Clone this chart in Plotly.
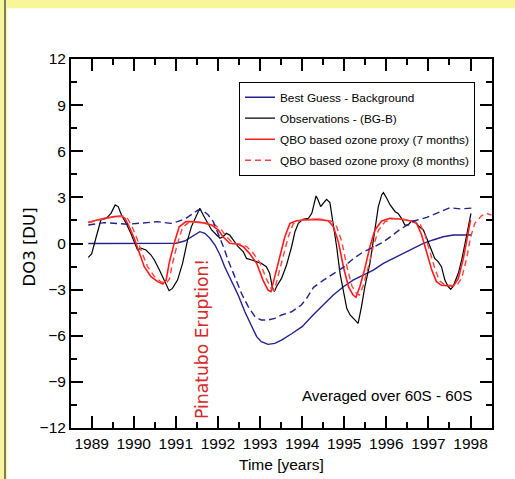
import plotly.graph_objects as go

# ---------------- data ----------------
obs_t = [1988.92, 1989.00, 1989.10, 1989.22, 1989.34, 1989.46, 1989.56, 1989.63, 1989.71, 1989.82,
         1989.93, 1990.05, 1990.09, 1990.17, 1990.29, 1990.41, 1990.49, 1990.61, 1990.73, 1990.84,
         1990.92, 1991.04, 1991.16, 1991.28, 1991.37, 1991.49, 1991.57, 1991.65, 1991.73, 1991.85,
         1991.97, 1992.05, 1992.12, 1992.20, 1992.28, 1992.36, 1992.48, 1992.60, 1992.68, 1992.80,
         1992.92, 1993.03, 1993.15, 1993.23, 1993.29, 1993.34, 1993.39, 1993.51, 1993.63, 1993.75,
         1993.83, 1993.91, 1994.02, 1994.15, 1994.23, 1994.33, 1994.38, 1994.44, 1994.50, 1994.58,
         1994.66, 1994.74, 1994.82, 1994.90, 1994.98, 1995.06, 1995.14, 1995.25, 1995.33, 1995.41,
         1995.49, 1995.61, 1995.73, 1995.81, 1995.89, 1995.93, 1996.01, 1996.09, 1996.21, 1996.28,
         1996.36, 1996.44, 1996.52, 1996.60, 1996.68, 1996.78, 1996.88, 1996.96, 1997.04, 1997.15,
         1997.23, 1997.31, 1997.39, 1997.47, 1997.53, 1997.59, 1997.71, 1997.79, 1997.87, 1997.95,
         1998.01]
obs_v = [-0.90, -0.68, 0.34, 1.53, 1.62, 1.96, 2.51, 2.40, 1.85, 1.31,
         0.66, -0.21, -0.42, -0.31, -0.42, -0.75, -1.07, -1.72, -2.38, -3.07,
         -2.92, -2.38, -1.29, 0.23, 1.10, 1.85, 2.29, 1.85, 1.42, 0.88,
         0.55, 0.34, 0.44, 0.66, 0.55, 0.23, -0.21, -0.53, -0.97, -1.07,
         -1.18, -1.29, -1.51, -1.94, -2.81, -3.13, -2.81, -2.27, -1.40, -0.21,
         0.77, 1.31, 1.57, 1.64, 1.96, 3.09, 2.83, 2.40, 2.61, 2.87,
         2.66, 1.31, -0.21, -1.94, -3.03, -4.22, -4.65, -4.98, -5.19, -4.11,
         -2.81, -1.29, 0.88, 2.40, 3.16, 3.31, 2.94, 2.51, 2.07, 1.96,
         1.64, 1.20, 1.20, 1.48, 1.42, 1.10, 0.88, 0.34, -0.21, -0.97,
         -1.18, -1.51, -2.38, -2.81, -2.98, -2.77, -1.94, -1.07, 0.01, 1.10,
         1.96]

bg_t = [1988.92, 1989.5, 1990.0, 1990.5, 1991.0, 1991.21, 1991.37, 1991.49, 1991.57, 1991.69,
        1991.81, 1991.93, 1992.05, 1992.16, 1992.32, 1992.48, 1992.64, 1992.80, 1992.92, 1993.03,
        1993.19, 1993.35, 1993.51, 1993.75, 1994.00, 1994.26, 1994.50, 1994.74, 1994.98, 1995.21,
        1995.45, 1995.69, 1995.93, 1996.16, 1996.40, 1996.64, 1996.88, 1997.11, 1997.35, 1997.59,
        1997.83, 1998.03]
bg_v = [0.0, 0.0, 0.0, 0.0, 0.02, 0.16, 0.44, 0.66, 0.77, 0.66,
        0.34, -0.10, -0.75, -1.51, -2.38, -3.35, -4.44, -5.41, -6.06, -6.39,
        -6.56, -6.50, -6.28, -5.87, -5.41, -4.65, -4.00, -3.35, -2.81, -2.38,
        -2.05, -1.73, -1.29, -0.97, -0.64, -0.31, 0.01, 0.23, 0.44, 0.55,
        0.55, 0.55]

bgd_t = [1988.92, 1989.30, 1989.86, 1990.09, 1990.33, 1990.57, 1990.88, 1991.04, 1991.24, 1991.37,
         1991.53, 1991.65, 1991.77, 1991.89, 1992.01, 1992.13, 1992.24, 1992.40, 1992.56, 1992.72,
         1992.88, 1993.03, 1993.19, 1993.35, 1993.51, 1993.75, 1993.98, 1994.10, 1994.27, 1994.50,
         1994.74, 1994.98, 1995.21, 1995.45, 1995.69, 1995.90, 1996.08, 1996.32, 1996.64, 1996.96,
         1997.27, 1997.51, 1997.75, 1998.03]
bgd_v = [1.20, 1.36, 1.25, 1.31, 1.38, 1.42, 1.31, 1.42, 1.64, 1.90,
         2.18, 2.14, 1.85, 1.42, 0.66, -0.21, -1.07, -2.16, -3.25, -4.11,
         -4.76, -4.98, -4.98, -4.87, -4.65, -4.44, -4.00, -3.60, -2.85, -2.40,
         -1.95, -1.55, -1.00, -0.55, -0.25, 0.05, 0.40, 0.90, 1.45, 1.70,
         2.05, 2.33, 2.25, 2.30]

q7_t = [1988.92, 1989.14, 1989.30, 1989.54, 1989.70, 1989.79, 1989.89, 1990.01, 1990.13, 1990.25,
        1990.41, 1990.57, 1990.69, 1990.77, 1990.84, 1990.96, 1991.08, 1991.24, 1991.37, 1991.61,
        1991.85, 1992.01, 1992.12, 1992.28, 1992.48, 1992.60, 1992.75, 1992.92, 1993.07, 1993.19,
        1993.26, 1993.35, 1993.47, 1993.59, 1993.71, 1993.87, 1994.02, 1994.34, 1994.62, 1994.74,
        1994.86, 1994.98, 1995.10, 1995.21, 1995.28, 1995.37, 1995.49, 1995.61, 1995.73, 1995.89,
        1996.09, 1996.32, 1996.56, 1996.72, 1996.84, 1996.96, 1997.08, 1997.19, 1997.31, 1997.59,
        1997.71, 1997.83, 1997.92, 1998.00]
q7_v = [1.38, 1.53, 1.64, 1.75, 1.79, 1.64, 1.10, 0.34, -0.64, -1.51,
        -2.16, -2.48, -2.64, -2.38, -1.29, 0.01, 1.09, 1.42, 1.42, 1.36,
        1.20, 0.88, 0.44, 0.01, -0.05, -0.21, -0.64, -1.29, -2.38, -3.03,
        -3.13, -2.16, -0.86, 0.44, 1.31, 1.48, 1.53, 1.57, 1.48, 1.10,
        0.12, -1.51, -2.81, -3.35, -3.50, -2.81, -1.62, -0.21, 0.88, 1.46,
        1.64, 1.59, 1.48, 1.31, 0.55, -0.53, -1.73, -2.48, -2.72, -2.77,
        -2.27, -0.97, 0.44, 1.53]

q8_t = [1988.92, 1989.14, 1989.30, 1989.54, 1989.75, 1989.86, 1989.96, 1990.08, 1990.20, 1990.33,
        1990.49, 1990.65, 1990.77, 1990.85, 1990.92, 1991.04, 1991.16, 1991.32, 1991.60, 1991.90,
        1992.08, 1992.20, 1992.36, 1992.56, 1992.68, 1992.83, 1993.00, 1993.15, 1993.27, 1993.34,
        1993.43, 1993.55, 1993.67, 1993.79, 1993.95, 1994.10, 1994.40, 1994.70, 1994.82, 1994.94,
        1995.06, 1995.18, 1995.29, 1995.36, 1995.45, 1995.57, 1995.69, 1995.81, 1995.97, 1996.17,
        1996.40, 1996.64, 1996.80, 1996.92, 1997.04, 1997.16, 1997.27, 1997.39, 1997.67, 1997.79,
        1997.91, 1998.00, 1998.10, 1998.26, 1998.38, 1998.50]
q8_v = [1.35, 1.50, 1.62, 1.72, 1.78, 1.60, 1.10, 0.30, -0.65, -1.50,
        -2.15, -2.50, -2.60, -2.30, -1.30, 0.00, 1.05, 1.40, 1.40, 1.25,
        0.90, 0.45, 0.02, -0.05, -0.20, -0.60, -1.25, -2.30, -2.95, -3.05,
        -2.10, -0.85, 0.42, 1.30, 1.50, 1.55, 1.60, 1.45, 1.10, 0.15,
        -1.45, -2.75, -3.25, -3.35, -2.75, -1.55, -0.20, 0.85, 1.42, 1.62,
        1.58, 1.45, 1.28, 0.55, -0.50, -1.70, -2.45, -2.70, -2.75, -2.25,
        -0.95, 0.40, 1.30, 1.80, 1.96, 1.85]

legend_names = ["Best Guess - Background", "Observations - (BG-B)",
                "QBO based ozone proxy (7 months)", "QBO based ozone proxy (8 months)"]

# ---------------- geometry ----------------
W, H = 515, 479
L, R, T, B = 71, 23, 59, 51
PW, PH = W - L - R, H - T - B

def px(x):
    return (x - L) / PW

def py(y):
    return (H - B - y) / PH

SANS = "Liberation Sans, Arial, sans-serif"
WIDE = "DejaVu Sans, Liberation Sans, sans-serif"
NAVY = "#22228f"

fig = go.Figure()
fig.add_trace(go.Scatter(x=bg_t, y=bg_v, mode="lines", name=legend_names[0], legendgroup="a",
                         line=dict(color=NAVY, width=1.4)))
fig.add_trace(go.Scatter(x=obs_t, y=obs_v, mode="lines", name=legend_names[1], legendgroup="b",
                         line=dict(color="black", width=1.2)))
fig.add_trace(go.Scatter(x=q7_t, y=q7_v, mode="lines", name=legend_names[2], legendgroup="c",
                         line=dict(color="#ff1a1a", width=1.6)))
fig.add_trace(go.Scatter(x=q8_t, y=q8_v, mode="lines", name=legend_names[3], legendgroup="d",
                         line=dict(color="#ff4040", width=1.4, dash="6px,4px")))
fig.add_trace(go.Scatter(x=bgd_t, y=bgd_v, mode="lines", showlegend=False, legendgroup="e",
                         line=dict(color=NAVY, width=1.4, dash="7px,4px")))

axis_common = dict(showline=True, linewidth=2, linecolor="black", mirror="allticks",
                   ticks="inside", ticklen=12, tickwidth=1.5, tickcolor="black",
                   showgrid=False, zeroline=False, automargin=False, tickangle=0,
                   tickfont=dict(family=SANS, size=15.5, color="black"))
fig.update_xaxes(range=[1988.51, 1998.51], tick0=1989, dtick=1,
                 minor=dict(dtick=0.5, tick0=1988.5, ticks="inside", ticklen=6,
                            tickwidth=1.5, tickcolor="black"),
                 **axis_common)
fig.update_yaxes(range=[-12, 12], tick0=-12, dtick=3,
                 minor=dict(dtick=1.5, tick0=-12, ticks="inside", ticklen=6,
                            tickwidth=1.5, tickcolor="black"),
                 **axis_common)

shapes = [
    dict(type="rect", xref="paper", yref="paper", x0=px(0), x1=px(W), y0=py(8.3), y1=py(0),
         fillcolor="#f7f79a", line=dict(width=0), layer="below"),
    dict(type="rect", xref="paper", yref="paper", x0=px(0), x1=px(7.3), y0=py(H), y1=py(0),
         fillcolor="#f7f79a", line=dict(width=0), layer="below"),
    dict(type="line", xref="paper", yref="paper", x0=px(5), x1=px(5), y0=py(H), y1=py(0),
         line=dict(color="#555555", width=1.5), layer="below"),
]

annotations = [
    dict(text="Time [years]", xref="paper", yref="paper", x=px(281), y=py(464),
         showarrow=False, font=dict(family=SANS, size=15.5, color="black"),
         xanchor="center", yanchor="middle"),
    dict(text="DO3 [DU]", xref="paper", yref="paper", x=px(28.5), y=py(247),
         showarrow=False, textangle=-90, font=dict(family=WIDE, size=16.5, color="black"),
         xanchor="center", yanchor="middle"),
    dict(text="Pinatubo Eruption!", xref="paper", yref="paper", x=px(202), y=py(339),
         showarrow=False, textangle=-90, font=dict(family=WIDE, size=17.2, color="#d42a2a"),
         xanchor="center", yanchor="middle"),
    dict(text="Averaged over 60S - 60S", xref="paper", yref="paper", x=px(387), y=py(395),
         showarrow=False, font=dict(family=SANS, size=15.2, color="black"),
         xanchor="center", yanchor="middle"),
]

fig.update_layout(
    width=W, height=H,
    margin=dict(l=L, r=R, t=T, b=B, pad=0),
    paper_bgcolor="white", plot_bgcolor="white",
    shapes=shapes, annotations=annotations,
    legend=dict(x=px(239), y=py(81.7), xanchor="left", yanchor="top",
                bordercolor="black", borderwidth=1, bgcolor="white",
                font=dict(family=SANS, size=11.8, color="black"),
                tracegroupgap=2),
    showlegend=True,
)

fig.write_html("out.html", config={"displayModeBar": False},
               post_script="document.body.style.margin='0px';")
